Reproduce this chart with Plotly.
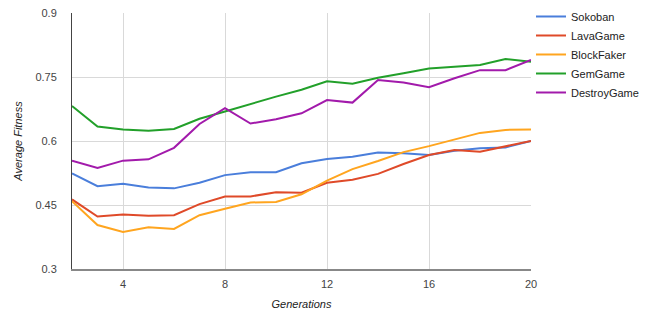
import plotly.graph_objects as go

generations = list(range(2, 21))

sokoban = [0.524, 0.494, 0.500, 0.491, 0.489, 0.502, 0.520, 0.527, 0.527, 0.548,
           0.558, 0.563, 0.573, 0.571, 0.567, 0.577, 0.583, 0.585, 0.600]
lavagame = [0.463, 0.423, 0.428, 0.425, 0.426, 0.452, 0.470, 0.470, 0.480, 0.479,
            0.502, 0.509, 0.523, 0.546, 0.567, 0.579, 0.575, 0.588, 0.600]
blockfaker = [0.459, 0.403, 0.387, 0.398, 0.394, 0.426, 0.441, 0.456, 0.457, 0.475,
              0.507, 0.534, 0.553, 0.574, 0.588, 0.604, 0.619, 0.626, 0.627]
gemgame = [0.682, 0.634, 0.627, 0.624, 0.628, 0.652, 0.669, 0.687, 0.704, 0.720,
           0.740, 0.734, 0.748, 0.759, 0.770, 0.774, 0.778, 0.792, 0.786]
destroygame = [0.554, 0.537, 0.554, 0.557, 0.584, 0.640, 0.677, 0.641, 0.651, 0.665,
               0.696, 0.690, 0.743, 0.737, 0.726, 0.747, 0.766, 0.766, 0.790]

series_names = ["Sokoban", "LavaGame", "BlockFaker", "GemGame", "DestroyGame"]
series_values = [sokoban, lavagame, blockfaker, gemgame, destroygame]
colors = ["#4a7edb", "#df4a29", "#ffa51f", "#22a02a", "#a21aab"]

x_ticks = [4, 8, 12, 16, 20]
y_ticks = [0.3, 0.45, 0.6, 0.75, 0.9]
y_tick_labels = ["0.3", "0.45", "0.6", "0.75", "0.9"]

font_family = "Arial, 'Liberation Sans', sans-serif"

fig = go.Figure()
for name, vals, col in zip(series_names, series_values, colors):
    fig.add_trace(go.Scatter(x=generations, y=vals, name=name, mode="lines",
                             line=dict(color=col, width=2)))

fig.update_layout(
    width=649, height=311,
    margin=dict(l=72, r=118, t=13, b=42, autoexpand=False),
    paper_bgcolor="white", plot_bgcolor="white",
    font=dict(family=font_family, size=11, color="#222"),
    showlegend=True,
    legend=dict(x=1.0, xanchor="left", y=1.043, yanchor="top",
                font=dict(size=11, color="#222"), itemwidth=30,
                tracegroupgap=0, bgcolor="rgba(0,0,0,0)"),
    xaxis=dict(range=[2, 20], tickvals=x_ticks, showgrid=True, gridcolor="#d9d9d9",
               gridwidth=1, zeroline=False, showline=True, linecolor="#888",
               linewidth=1.5, tickfont=dict(size=11, color="#444"),
               ticklabelstandoff=4, automargin=False,
               title=dict(text="<i>Generations</i>", font=dict(size=11, color="#222"),
                          standoff=11)),
    yaxis=dict(range=[0.3, 0.9], tickvals=y_ticks, ticktext=y_tick_labels,
               showgrid=True, gridcolor="#d9d9d9", gridwidth=1, zeroline=False,
               showline=True, linecolor="#444", linewidth=1,
               tickfont=dict(size=11, color="#444"), ticklabelstandoff=12,
               automargin=False,
               title=dict(text="<i>Average Fitness</i>", font=dict(size=11, color="#222"),
                          standoff=10)),
)

fig.write_html("out.html", config={"displayModeBar": False},
               post_script="document.body.style.margin='0px';document.body.style.padding='0px';")
